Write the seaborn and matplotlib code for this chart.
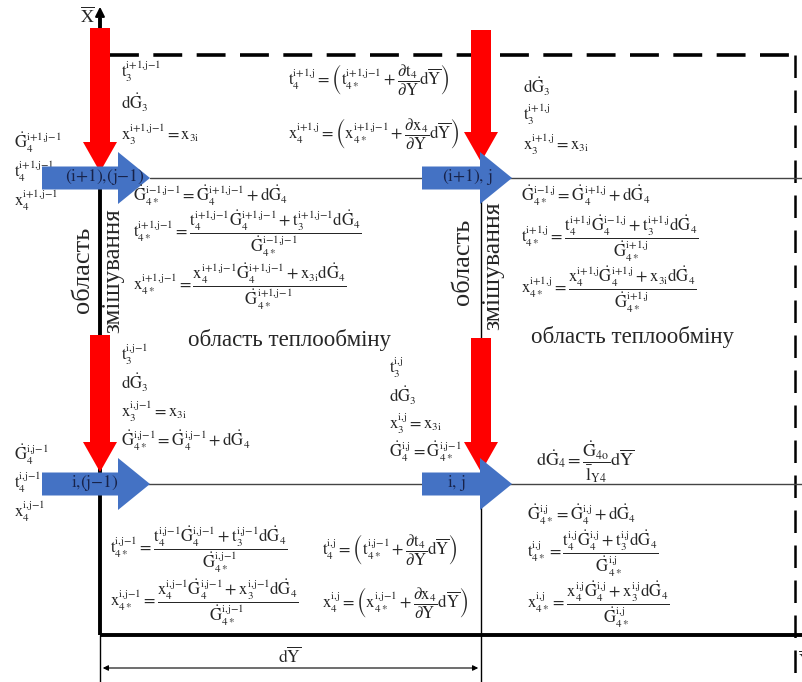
import re
import matplotlib
matplotlib.use("Agg")
import matplotlib.pyplot as plt
import matplotlib._mathtext as _mt
import seaborn as sns

sns.set_theme(style="white")
plt.rcParams['font.family'] = ['Liberation Serif', 'DejaVu Serif']
plt.rcParams['mathtext.fontset'] = 'stix'
plt.rcParams['mathtext.default'] = 'rm'
_mt.SHRINK_FACTOR = 0.65  # smaller indices, as in the reference

RED = '#FF0000'
BLUE = '#4472C4'
FS = 12

# ---- text content ----
node_labels = [r'$(i{+}1){,}(j{-}1)$', r'$(i{+}1){,}\ j$', r'$i{,}(j{-}1)$', r'$i{,}\ j$']
region_mix = ['область', 'змішування']
region_heat = 'область теплообміну'

upper_left_in = [r'$t_3^{i+1,j-1}$', r'$d\dot{G}_3$', r'$x_3^{i+1,j-1}=x_{3i}$']
upper_left_out = [r'$\dot{G}_4^{i+1,j-1}$', r'$t_4^{i+1,j-1}$', r'$x_4^{i+1,j-1}$']
top_mid = [r'$t_4^{i+1,j}=\left(t_{4*}^{i+1,j-1}+\dfrac{\partial t_4}{\partial Y}d\overline{Y}\right)$',
           r'$x_4^{i+1,j}=\left(x_{4*}^{i+1,j-1}+\dfrac{\partial x_4}{\partial Y}d\overline{Y}\right)$']
top_right = [r'$d\dot{G}_3$', r'$t_3^{i+1,j}$', r'$x_3^{i+1,j}=x_{3i}$']
mid_left = [r'$\dot{G}_{4*}^{i-1,j-1}=\dot{G}_4^{i+1,j-1}+d\dot{G}_4$',
            r'$t_{4*}^{i+1,j-1}=\dfrac{t_4^{i+1,j-1}\dot{G}_4^{i+1,j-1}+t_3^{i+1,j-1}d\dot{G}_4}{\dot{G}_{4*}^{i-1,j-1}}$',
            r'$x_{4*}^{i+1,j-1}=\dfrac{x_4^{i+1,j-1}\dot{G}_4^{i+1,j-1}+x_{3i}d\dot{G}_4}{\dot{G}_{4*}^{i+1,j-1}}$']
mid_right = [r'$\dot{G}_{4*}^{i-1,j}=\dot{G}_4^{i+1,j}+d\dot{G}_4$',
             r'$t_{4*}^{i+1,j}=\dfrac{t_4^{i+1,j}\dot{G}_4^{i-1,j}+t_3^{i+1,j}d\dot{G}_4}{\dot{G}_{4*}^{i+1,j}}$',
             r'$x_{4*}^{i+1,j}=\dfrac{x_4^{i+1,j}\dot{G}_4^{i+1,j}+x_{3i}d\dot{G}_4}{\dot{G}_{4*}^{i+1,j}}$']
low_left_in = [r'$t_3^{i,j-1}$', r'$d\dot{G}_3$', r'$x_3^{i,j-1}=x_{3i}$',
               r'$\dot{G}_{4*}^{i,j-1}=\dot{G}_4^{i,j-1}+d\dot{G}_4$']
low_mid_in = [r'$t_3^{i,j}$', r'$d\dot{G}_3$', r'$x_3^{i,j}=x_{3i}$',
              r'$\dot{G}_4^{i,j}=\dot{G}_{4*}^{i,j-1}$']
low_left_out = [r'$\dot{G}_4^{i,j-1}$', r'$t_4^{i,j-1}$', r'$x_4^{i,j-1}$']
dG4_formula = r'$d\dot{G}_4=\dfrac{\dot{G}_{4o}}{\bar{l}_{Y4}}d\overline{Y}$'
low_right = [r'$\dot{G}_{4*}^{i,j}=\dot{G}_4^{i,j}+d\dot{G}_4$',
             r'$t_{4*}^{i,j}=\dfrac{t_4^{i,j}\dot{G}_4^{i,j}+t_3^{i,j}d\dot{G}_4}{\dot{G}_{4*}^{i,j}}$',
             r'$x_{4*}^{i,j}=\dfrac{x_4^{i,j}\dot{G}_4^{i,j}+x_3^{i,j}d\dot{G}_4}{\dot{G}_{4*}^{i,j}}$']
bottom_left = [r'$t_{4*}^{i,j-1}=\dfrac{t_4^{i,j-1}\dot{G}_4^{i,j-1}+t_3^{i,j-1}d\dot{G}_4}{\dot{G}_{4*}^{i,j-1}}$',
               r'$x_{4*}^{i,j-1}=\dfrac{x_4^{i,j-1}\dot{G}_4^{i,j-1}+x_3^{i,j-1}d\dot{G}_4}{\dot{G}_{4*}^{i,j-1}}$']
bottom_mid = [r'$t_4^{i,j}=\left(t_{4*}^{i,j-1}+\dfrac{\partial t_4}{\partial Y}d\overline{Y}\right)$',
              r'$x_4^{i,j}=\left(x_{4*}^{i,j-1}+\dfrac{\partial x_4}{\partial Y}d\overline{Y}\right)$']


def tight(body):
    return body.replace('+', '{+}').replace('-', '{-}').replace(',', '{,}')


def compact(s):
    return re.sub(r'\^\{([^{}]*)\}', lambda m: '^{' + tight(m.group(1)) + '}', s)


fig = plt.figure(figsize=(8.03, 6.82), dpi=100)
ax = fig.add_axes([0, 0, 1, 1])
ax.set_xlim(0, 803)
ax.set_ylim(682, 0)
ax.axis('off')

# ---- lines ----
ax.plot([110, 803], [55, 55], color='black', lw=2.6, ls=(0, (8, 4)), zorder=1)
ax.plot([795, 795], [55, 682], color='black', lw=1.8, ls=(0, (9, 5)), zorder=1)
ax.plot([150, 803], [178, 178], color='#444444', lw=1.0, zorder=1)
ax.plot([148, 803], [484, 484], color='#444444', lw=1.0, zorder=1)
ax.plot([481, 481], [160, 682], color='black', lw=1.0, zorder=1)
ax.plot([100, 100], [635, 682], color='black', lw=1.0, zorder=1)

# main axes
ax.plot([100, 100], [635, 18], color='black', lw=2.8, zorder=2, solid_capstyle='butt')
ax.annotate('', xy=(100, 4), xytext=(100, 20),
            arrowprops=dict(arrowstyle='-|>', color='black', lw=1.5, mutation_scale=14), zorder=2)
ax.plot([100, 803], [635, 635], color='black', lw=2.8, zorder=2, solid_capstyle='butt')
ax.text(87, 16, r'$\overline{X}$', fontsize=13, ha='center', va='center')
ax.text(798, 660, r'$\overline{Y}$', fontsize=13, ha='left', va='center')

# ---- red arrows ----
for x0, y0, y1 in [(100, 28, 172), (481, 30, 162), (100, 335, 472), (481, 338, 472)]:
    ax.arrow(x0, y0, 0, y1 - y0, width=20, head_width=34, head_length=30,
             length_includes_head=True, color=RED, lw=0, zorder=4)

# ---- blue arrows ----
blue_arrows = [(42, 150, 178, 105), (422, 512, 178, 467), (42, 150, 484, 95), (422, 512, 484, 456)]
for (x0, x1, yc, xl), lab in zip(blue_arrows, node_labels):
    ax.arrow(x0, yc, x1 - x0, 0, width=23, head_width=52, head_length=32,
             length_includes_head=True, color=BLUE, lw=0, zorder=5)
    ax.text(xl, yc - 1, lab, fontsize=12.5, color='#18234a',
            ha='center', va='center', zorder=6)

# ---- dimension dY ----
ax.annotate('', xy=(100, 668), xytext=(481, 668),
            arrowprops=dict(arrowstyle='<|-|>', color='black', lw=0.8, mutation_scale=8))
ax.text(290, 657, r'$d\overline{Y}$', fontsize=12.5, ha='center', va='center')

# ---- region labels ----
for x, y, s, f in [(83, 270, region_mix[0], 19), (113, 271, region_mix[1], 18),
                   (463, 262, region_mix[0], 19), (493, 266, region_mix[1], 18.5)]:
    ax.text(x, y, s, fontsize=f, rotation=90, ha='center', va='center', zorder=6)
ax.text(290, 340, region_heat, fontsize=16.5, ha='center', va='center')
ax.text(633, 337, region_heat, fontsize=16.5, ha='center', va='center')


def column(x, ys, texts, fs=FS, z=7):
    for y, s in zip(ys, texts):
        ax.text(x, y, compact(s), fontsize=fs, ha='left', va='center', zorder=z)


column(121, [72, 103, 135], upper_left_in)
column(14, [143, 172, 201], upper_left_out, z=3)
column(288, [80, 134], top_mid)
column(523, [87, 115, 145], top_right)
column(133, [196, 234, 287], mid_left)
column(521, [196, 239, 290], mid_right)
column(121, [355, 383, 412, 441], low_left_in)
column(389, [368, 396, 424, 452], low_mid_in)
column(14, [455, 483, 512], low_left_out, z=3)
column(536, [462], [dG4_formula], fs=13)
column(527, [515, 554, 605], low_right)
column(110, [550, 603], bottom_left)
column(322, [550, 603], bottom_mid)

fig.savefig('out.png', dpi=100)
